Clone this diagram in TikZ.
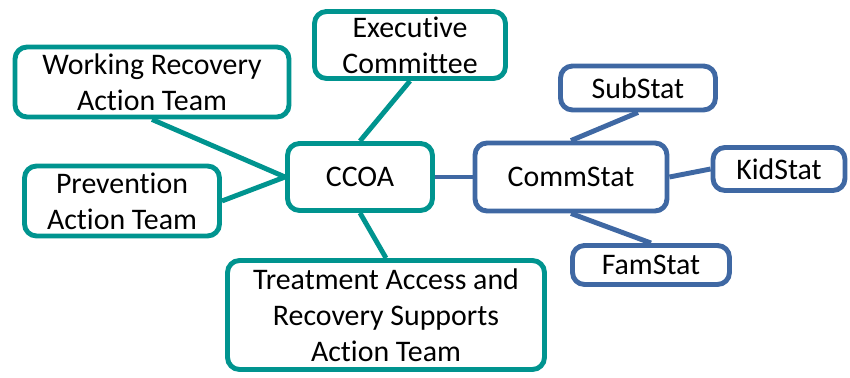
\documentclass[tikz,border=0pt]{standalone}
\usepackage{fontspec}
\setmainfont{Carlito}[RawFeature=-liga]
\usepackage{tikz}
\usetikzlibrary{positioning}
\definecolor{tealc}{HTML}{00948F}
\definecolor{bluec}{HTML}{3F68A3}

\begin{document}
\begin{tikzpicture}[x=0.02cm, y=-0.02cm,
    tealbox/.style={draw=tealc, line width=2.8pt, rounded corners=0.24cm, align=center, inner sep=0pt, font=\fontsize{17}{20.5}\selectfont},
    bluebox/.style={draw=bluec, line width=2.8pt, rounded corners=0.24cm, align=center, inner sep=0pt, font=\fontsize{17}{20.5}\selectfont},
    tealline/.style={draw=tealc, line width=2.8pt},
    blueline/.style={draw=bluec, line width=2.8pt}]
    \useasboundingbox (0,0) rectangle (850,378);
    \node[tealbox, minimum width=3.82cm, minimum height=1.34cm] (exec) at (410,45) {Executive\\Committee};
    \node[tealbox, minimum width=5.48cm, minimum height=1.40cm] (work) at (152,82) {Working Recovery\\Action Team};
    \node[tealbox, minimum width=3.90cm, minimum height=1.40cm] (prev) at (122,201) {Prevention\\Action Team};
    \node[tealbox, minimum width=2.90cm, minimum height=1.34cm] (ccoa) at (360,177) {CCOA};
    \node[tealbox, minimum width=6.34cm, minimum height=2.18cm] (treat) at (386,315) {Treatment Access and\\Recovery Supports\\Action Team};
    \node[bluebox, minimum width=3.84cm, minimum height=1.36cm] (comm) at (571,177) {CommStat};
    \node[bluebox, minimum width=3.10cm, minimum height=0.88cm] (sub) at (638,88) {SubStat};
    \node[bluebox, minimum width=2.64cm, minimum height=0.86cm] (kid) at (779,169) {KidStat};
    \node[bluebox, minimum width=3.14cm, minimum height=0.78cm] (fam) at (651,265) {FamStat};
    \path [tealline] (ccoa.north) -- (exec.south);
    \path [tealline] (ccoa.west) -- (work.south);
    \path [tealline] (ccoa.west) -- (prev.east);
    \path [tealline] (ccoa.south) -- (treat.north);
    \path [blueline] (ccoa.east) -- (comm.west);
    \path [blueline] (comm.north) -- (sub.south);
    \path [blueline] (comm.east) -- (kid.west);
    \path [blueline] (comm.south) -- (fam.north);
\end{tikzpicture}
\end{document}
